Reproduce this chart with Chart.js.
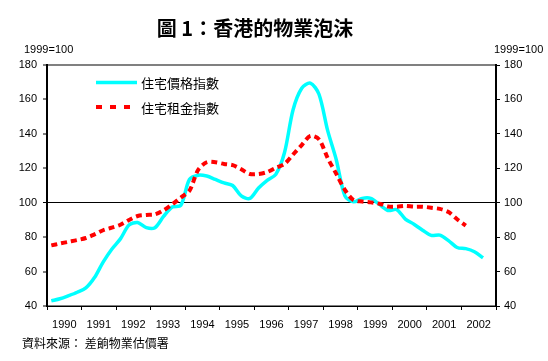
<!DOCTYPE html>
<html><head><meta charset="utf-8">
<script src="https://cdn.jsdelivr.net/npm/chart.js@4.4.1/dist/chart.umd.min.js"></script>
<style>html,body{margin:0;padding:0;background:#fff;}canvas{display:block;}</style>
</head><body>
<canvas id="c" width="548" height="361"></canvas>
<script>
const titleText = '圖 1：香港的物業泡沫';
const unitLabel = '1999=100';
const sourceText = '資料來源： 差餉物業估價署';
const seriesNames = ['住宅價格指數', '住宅租金指數'];
const yearLabels = ['1990','1991','1992','1993','1994','1995','1996','1997','1998','1999','2000','2001','2002'];
const yTicks = [40, 60, 80, 100, 120, 140, 160, 180];

// Quarterly values, 1990 Q1 onward
const priceIndex = [
  43, 44.2, 46, 48,
  50.5, 56.5, 65.5, 73,
  79, 87, 88.5, 85.5,
  85.5, 92, 97.5, 98.5,
  113.5, 116, 115.5, 113.5,
  111.5, 110, 104, 102.5,
  108.5, 113, 116.5, 129,
  154, 166.5, 169.5, 163,
  142, 125, 104, 100.5,
  102.5, 102.5, 99, 95.5,
  96, 90.5, 87.5, 84,
  81, 81.2, 78, 74,
  73.3, 71.5, 68
];
const rentIndex = [
  75.2, 76.3, 77.3, 78.3,
  79.5, 81.6, 84, 85.5,
  87.2, 90, 92.3, 92.9,
  93.2, 95.6, 99, 103,
  107, 119, 123.5, 123.5,
  122.5, 121.8, 119.4, 116.7,
  116.7, 117.8, 120.3, 122.5,
  128, 133.5, 138.8, 136.8,
  126, 116.8, 107.5, 101.5,
  100.7, 100.2, 99.4, 97.8,
  97.7, 98.1, 97.7, 97.7,
  97.1, 96.4, 94.6, 90.4,
  86.7
];

const firstYear = Number(yearLabels[0]);
const toPoints = vals => vals.map((v, i) => ({ x: firstYear + (i + 0.5) / 4, y: v }));

const overlay = {
  id: 'overlay',
  afterDraw(chart) {
    const ctx = chart.ctx;
    ctx.save();
    ctx.fillStyle = '#000';
    ctx.font = 'bold 20px "Noto Sans CJK TC"';
    ctx.textAlign = 'center';
    ctx.textBaseline = 'middle';
    ctx.fillText(titleText, 255, 28);
    ctx.font = '11px "Liberation Sans", Arial, sans-serif';
    ctx.textAlign = 'left';
    ctx.fillText(unitLabel, 24, 50);
    ctx.fillText(unitLabel, 494, 50);
    ctx.lineWidth = 3.5;
    ctx.strokeStyle = '#00FFFF';
    ctx.beginPath(); ctx.moveTo(96, 82.5); ctx.lineTo(137, 82.5); ctx.stroke();
    ctx.strokeStyle = '#FF0000';
    ctx.lineWidth = 4;
    ctx.setLineDash([6, 8]);
    ctx.beginPath(); ctx.moveTo(96, 107); ctx.lineTo(131, 107); ctx.stroke();
    ctx.setLineDash([]);
    ctx.font = '13px "Noto Sans CJK TC"';
    ctx.fillText(seriesNames[0], 141, 83);
    ctx.fillText(seriesNames[1], 141, 108);
    ctx.font = '12px "Noto Sans CJK TC"';
    ctx.fillText(sourceText, 22, 343);
    ctx.restore();
  }
};

const tickFont = { family: '"Liberation Sans", Arial, sans-serif', size: 11 };

new Chart(document.getElementById('c'), {
  type: 'line',
  data: {
    datasets: [
      { label: seriesNames[0], data: toPoints(priceIndex), borderColor: '#00FFFF', borderWidth: 3.5,
        pointRadius: 0, tension: 0.3, fill: false, order: 2 },
      { label: seriesNames[1], data: toPoints(rentIndex), borderColor: '#FF0000', borderWidth: 4,
        borderDash: [6, 4], pointRadius: 0, tension: 0.3, fill: false, order: 1 }
    ]
  },
  options: {
    responsive: false,
    animation: false,
    events: [],
    layout: { padding: { top: 65, left: 0, right: 0, bottom: 0 } },
    plugins: { legend: { display: false }, title: { display: false }, tooltip: { enabled: false } },
    scales: {
      x: {
        type: 'linear', position: 'bottom',
        min: firstYear, max: firstYear + yearLabels.length,
        afterBuildTicks: s => { s.ticks = yearLabels.map(y => ({ value: Number(y) + 0.5 })); },
        afterFit: s => { s.height = 55; },
        ticks: { autoSkip: false, maxRotation: 0, padding: 8, color: '#000', font: tickFont,
          callback: (v, i) => yearLabels[i] },
        grid: { offset: true, drawOnChartArea: false, drawTicks: true, tickLength: 4, tickColor: '#000', tickWidth: 1 },
        border: { color: '#000', width: 1 }
      },
      y: {
        type: 'linear', position: 'left', min: 40, max: 180,
        afterBuildTicks: s => { s.ticks = yTicks.map(v => ({ value: v })); },
        afterFit: s => { s.width = 47; },
        ticks: { padding: 6, color: '#000', font: tickFont },
        grid: {
          drawOnChartArea: true, drawTicks: true, tickLength: 4, tickColor: '#000', tickWidth: 1,
          color: c => c.tick && c.tick.value === 100 ? '#000' : (c.tick && (c.tick.value === 180 || c.tick.value === 40) ? '#808080' : 'rgba(0,0,0,0)'),
          lineWidth: c => c.tick && c.tick.value === 100 ? 1 : 2
        },
        border: { color: '#000', width: 2 }
      },
      y2: {
        type: 'linear', position: 'right', min: 40, max: 180,
        afterBuildTicks: s => { s.ticks = yTicks.map(v => ({ value: v })); },
        afterFit: s => { s.width = 52; },
        ticks: { padding: 4, color: '#000', font: tickFont },
        grid: { drawOnChartArea: false, drawTicks: true, tickLength: 4, tickColor: '#000', tickWidth: 1 },
        border: { color: '#000', width: 2 }
      }
    }
  },
  plugins: [overlay]
});
</script>
</body></html>
